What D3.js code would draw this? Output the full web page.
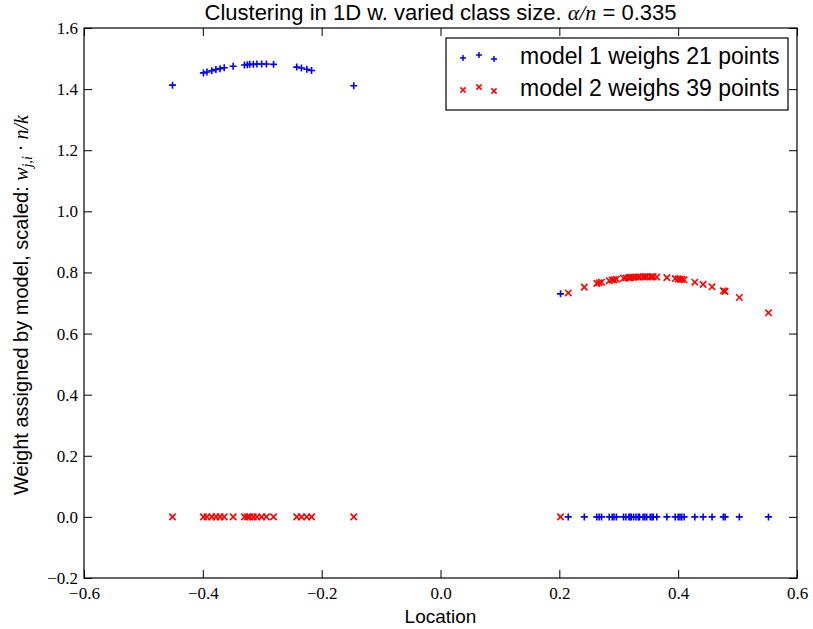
<!DOCTYPE html>
<html>
<head>
<meta charset="utf-8">
<script src="https://cdn.jsdelivr.net/npm/d3@7"></script>
<style>
  body { margin: 0; background: #fff; }
  svg text { fill: #000; }
</style>
</head>
<body>
<div id="chart"></div>
<script>
// ── Data ─────────────────────────────────────
// left cluster: model 1 owns these, model 2 gets ~0
const LEFT_X  = [-0.451,-0.399,-0.393,-0.385,-0.378,-0.371,-0.364,-0.349,-0.330,-0.325,-0.321,
                 -0.315,-0.309,-0.301,-0.293,-0.281,-0.242,-0.234,-0.225,-0.217,-0.146];
const LEFT_W1 = [1.413,1.453,1.456,1.460,1.464,1.467,1.470,1.475,1.479,1.480,1.481,
                 1.481,1.482,1.482,1.482,1.481,1.472,1.469,1.465,1.461,1.411];
// right cluster: model 2 owns these, model 1 gets ~0
const RIGHT_X  = [0.215,0.242,0.263,0.267,0.271,0.284,0.289,0.292,0.296,0.308,0.312,0.317,0.319,
                  0.321,0.325,0.329,0.333,0.335,0.341,0.344,0.347,0.353,0.356,0.358,0.364,0.381,
                  0.395,0.400,0.403,0.406,0.410,0.428,0.442,0.457,0.476,0.479,0.503,0.552];
const RIGHT_W2 = [0.733,0.752,0.764,0.766,0.768,0.773,0.775,0.776,0.778,0.781,0.782,0.783,0.783,
                  0.784,0.784,0.785,0.785,0.785,0.786,0.786,0.786,0.786,0.786,0.786,0.785,0.783,
                  0.780,0.779,0.778,0.777,0.776,0.768,0.761,0.753,0.740,0.738,0.718,0.668];
// the odd point near 0.2 that model 1 took
const ODD_X = 0.202, ODD_W1 = 0.730;

const X_TICKS = [-0.6,-0.4,-0.2,0.0,0.2,0.4,0.6];
const Y_TICKS = [-0.2,0.0,0.2,0.4,0.6,0.8,1.0,1.2,1.4,1.6];
const LEGEND  = ["model 1 weighs 21 points", "model 2 weighs 39 points"];

const BLUE = "#0000ff", RED = "#ff0000";
const SANS = "'Liberation Sans', Arial, sans-serif";
const SERIF = "'Liberation Serif', 'DejaVu Serif', serif";

// model 1 (+): high on left, zero on right, plus the odd one
const model1 = LEFT_X.map((x,i) => ({x, w: LEFT_W1[i]}))
  .concat([{x: ODD_X, w: ODD_W1}])
  .concat(RIGHT_X.map(x => ({x, w: 0})));
// model 2 (x)
const model2 = LEFT_X.map(x => ({x, w: 0}))
  .concat([{x: ODD_X, w: 0}])
  .concat(RIGHT_X.map((x,i) => ({x, w: RIGHT_W2[i]})));

// ── Layout ───────────────────────────────────
const W = 813, H = 629;
const margin = { top: 28, right: 16, bottom: 51, left: 84 };
const width  = W - margin.left - margin.right;
const height = H - margin.top - margin.bottom;

const svg = d3.select("#chart").append("svg").attr("width", W).attr("height", H);
const g = svg.append("g").attr("transform", `translate(${margin.left},${margin.top})`);

const x = d3.scaleLinear().domain([-0.6, 0.6]).range([0, width]);
const y = d3.scaleLinear().domain([-0.2, 1.6]).range([height, 0]);

const fmt = d => d3.format(".1f")(d).replace("-", "\u2212");

const plus  = r => `M${-r},0H${r}M0,${-r}V${r}`;
const cross = r => `M${-r},${-r}L${r},${r}M${-r},${r}L${r},${-r}`;

// ── Markers ──────────────────────────────────
g.selectAll(".m1").data(model1).join("path").attr("class","m1")
  .attr("transform", d => `translate(${x(d.x)},${y(d.w)})`)
  .attr("d", plus(3.5)).attr("stroke", BLUE).attr("stroke-width", 1.6).attr("fill","none");

g.selectAll(".m2").data(model2).join("path").attr("class","m2")
  .attr("transform", d => `translate(${x(d.x)},${y(d.w)})`)
  .attr("d", cross(3.2)).attr("stroke", RED).attr("stroke-width", 1.6).attr("fill","none");

// ── Axes (ticks inward on all four sides) ────
function styleAxis(sel) {
  sel.select(".domain").remove();
  sel.selectAll(".tick line").attr("stroke", "#000").attr("stroke-width", 1);
  sel.selectAll(".tick text").style("font-family", SERIF).style("font-size", "17px").attr("fill", "#000");
}
g.append("g").attr("transform", `translate(0,${height})`)
  .call(d3.axisBottom(x).tickValues(X_TICKS).tickFormat(fmt).tickSizeInner(-8).tickSizeOuter(0).tickPadding(9))
  .call(styleAxis);
g.append("g")
  .call(d3.axisTop(x).tickValues(X_TICKS).tickFormat("").tickSizeInner(-8).tickSizeOuter(0))
  .call(styleAxis);
g.append("g")
  .call(d3.axisLeft(y).tickValues(Y_TICKS).tickFormat(fmt).tickSizeInner(-8).tickSizeOuter(0).tickPadding(6))
  .call(styleAxis);
g.append("g").attr("transform", `translate(${width},0)`)
  .call(d3.axisRight(y).tickValues(Y_TICKS).tickFormat("").tickSizeInner(-8).tickSizeOuter(0))
  .call(styleAxis);

g.append("rect").attr("width", width).attr("height", height)
  .attr("fill", "none").attr("stroke", "#000").attr("stroke-width", 1.2);

// ── Titles ───────────────────────────────────
const title = svg.append("text").attr("x", margin.left + width/2).attr("y", 20)
  .attr("text-anchor", "middle").attr("font-family", SANS).attr("font-size", "22px");
title.append("tspan").text("Clustering in 1D w. varied class size. ");
title.append("tspan").attr("font-family", SERIF).attr("font-style", "italic").text("\u03b1/n");
title.append("tspan").text(" = 0.335");

svg.append("text").attr("x", margin.left + width/2).attr("y", 623)
  .attr("text-anchor", "middle").attr("font-family", SANS).attr("font-size", "19px")
  .text("Location");

const ylab = svg.append("text")
  .attr("transform", `translate(28,${margin.top + height/2 + 2}) rotate(-90)`)
  .attr("text-anchor", "middle").attr("font-family", SANS).attr("font-size", "20px");
ylab.append("tspan").text("Weight assigned by model, scaled: ");
ylab.append("tspan").attr("font-family", SERIF).attr("font-style", "italic").text("w");
ylab.append("tspan").attr("font-family", SERIF).attr("font-style", "italic")
  .attr("font-size", "14px").attr("dy", 4).text("j,i");
ylab.append("tspan").attr("font-family", SERIF).attr("dy", -4).text(" \u00b7 ");
ylab.append("tspan").attr("font-family", SERIF).attr("font-style", "italic").text("n/k");

// ── Legend ───────────────────────────────────
const legend = svg.append("g").attr("transform", "translate(446,38)");
legend.append("rect").attr("width", 342).attr("height", 72)
  .attr("fill", "#fff").attr("stroke", "#000").attr("stroke-width", 1.2);
const offs = [[17, 2], [33, -1], [48, 3]];
LEGEND.forEach((label, i) => {
  const cy = 18 + i * 32;
  offs.forEach(([ox, oy]) => {
    legend.append("path").attr("transform", `translate(${ox},${cy + oy})`)
      .attr("d", i === 0 ? plus(3) : cross(2.6))
      .attr("stroke", i === 0 ? BLUE : RED).attr("stroke-width", 1.5).attr("fill", "none");
  });
  legend.append("text").attr("x", 74).attr("y", cy + 8)
    .attr("font-family", SANS).attr("font-size", "23px").text(label);
});
</script>
</body>
</html>
